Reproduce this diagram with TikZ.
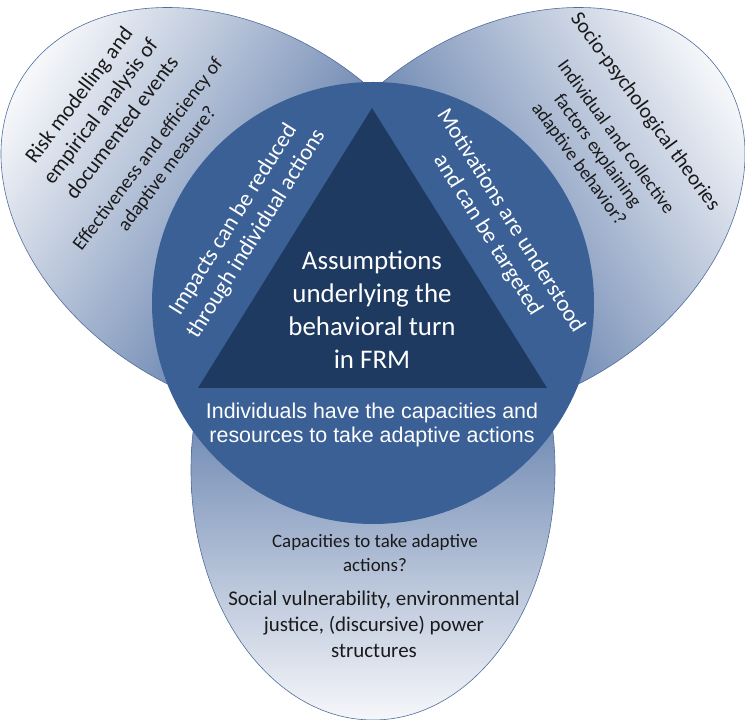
\documentclass[tikz,border=0pt]{standalone}
\usepackage{fontspec}
\setmainfont{Carlito}
\newfontfamily\arialfont{Liberation Sans}

\definecolor{lobeline}{HTML}{4F6D9B}
\definecolor{lobedark}{HTML}{184285}
\definecolor{lobelight}{HTML}{F6F7FA}
\definecolor{ringblue}{HTML}{3A6095}
\definecolor{coreblue}{HTML}{1E3A60}
\definecolor{inkgrey}{HTML}{1A1A1A}

\begin{document}
\begin{tikzpicture}[x=1bp,y=1bp]

\tikzstyle{every node}=[align=center,inner sep=0pt,anchor=center];
\tikzstyle{lobe}=[draw=lobeline,line width=0.6bp,top color=lobedark,bottom color=lobelight];
\tikzstyle{dark text}=[text=inkgrey];
\tikzstyle{light text}=[text=white];

\useasboundingbox (0,0) rectangle (745,720);

% Draw the three lobes, tips pointing away from the circle
\foreach \ang/\shang in {147/-123,33/123,270/0}{
  \begin{scope}[shift={(373,417)},rotate=\ang]
    \shade[lobe,shading angle=\shang] (167,0) ellipse (250 and 182);
  \end{scope}
}

% Central circle and triangle
\fill[ringblue] (373,417) circle (221);
\fill[coreblue] (198,332) -- (547,332) -- (372,612) -- cycle;

% Texts inside the circle
\node[light text,font=\fontsize{27}{33}\selectfont] (core) at (372,410)
  {Assumptions\\underlying the\\behavioral turn\\in FRM};
\node[light text,rotate=58,font=\fontsize{23}{27}\selectfont] (impacts) at (245,493)
  {Impacts can be reduced\\through individual actions};
\node[light text,rotate=-58,font=\fontsize{23}{27}\selectfont] (motives) at (499,492)
  {Motivations are understood\\and can be targeted};
\node[light text,font=\arialfont\fontsize{21.5}{25}\selectfont] (resources) at (372,295)
  {Individuals have the capacities and\\resources to take adaptive actions};

% Texts in the lobes
\node[dark text,rotate=53,font=\fontsize{21.5}{27}\selectfont] (risk) at (100,609)
  {Risk modelling and\\empirical analysis of\\documented events};
\node[dark text,rotate=53,font=\fontsize{19.5}{24}\selectfont] (efficiency) at (158,558)
  {Effectiveness and efficiency of\\adaptive measure?};
\node[dark text,rotate=-54,font=\fontsize{21}{25}\selectfont] (socio) at (645,608)
  {Socio-psychological theories};
\node[dark text,rotate=-54,font=\fontsize{19}{23}\selectfont] (factors) at (597,569)
  {Individual and collective\\factors explaining\\adaptive behavior?};
\node[dark text,font=\fontsize{19}{24}\selectfont] (question) at (375,167)
  {Capacities to take adaptive\\actions?};
\node[dark text,font=\fontsize{21}{26}\selectfont] (justice) at (374,96)
  {Social vulnerability, environmental\\justice, (discursive) power\\structures};

\end{tikzpicture}
\end{document}
